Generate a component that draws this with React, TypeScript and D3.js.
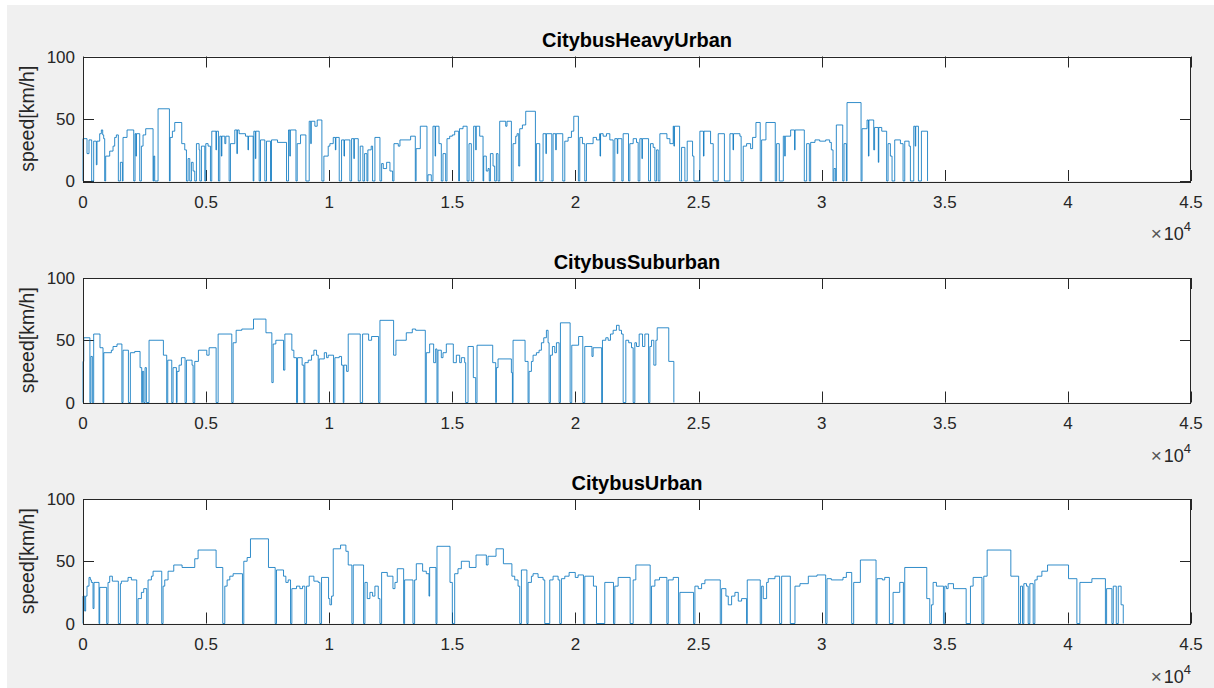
import React, { useEffect, useRef } from "react";
import * as d3 from "d3";

type Pt = [number, number];

// distance [m] / speed [km/h] breakpoints, speed holds until next breakpoint
const heavyUrbanProfile: Pt[] = [
  [0, 0], [0, 34], [163, 22], [244, 33], [352, 0], [434, 32], [542, 13], [569, 32], [678, 38], [745, 41], [800, 37], [840, 34], [881, 0],
  [921, 20], [1084, 24], [1220, 28], [1287, 35], [1355, 37], [1436, 0], [1518, 15], [1599, 0], [1626, 35], [1789, 41], [2060, 0],
  [2114, 38], [2150, 20], [2170, 38], [2304, 0], [2371, 28], [2439, 37], [2547, 42], [2846, 0], [2873, 20], [2913, 0], [3049, 58],
  [3510, 0], [3540, 35], [3631, 40], [3726, 47], [4010, 30], [4133, 25], [4201, 0], [4268, 18], [4336, 0], [4404, 15], [4472, 8],
  [4539, 0], [4607, 30], [4715, 25], [4743, 0], [4810, 28], [4946, 0], [4987, 30], [5081, 28], [5176, 0], [5230, 40], [5400, 25],
  [5420, 40], [5501, 0], [5556, 36], [5620, 20], [5640, 36], [5759, 30], [5800, 36], [5935, 0], [5989, 30], [6165, 41], [6250, 22],
  [6270, 41], [6342, 38], [6599, 36], [6700, 25], [6720, 36], [6911, 0], [6938, 40], [7000, 18], [7020, 40], [7155, 0], [7209, 33],
  [7385, 0], [7453, 32], [7615, 0], [7656, 33], [7900, 31], [8266, 0], [8348, 41], [8400, 20], [8420, 41], [8650, 0], [8700, 30],
  [8835, 37], [9052, 0], [9187, 48], [9250, 30], [9270, 48], [9417, 44], [9512, 49], [9702, 0], [9783, 20], [9959, 28], [10027, 30],
  [10163, 35], [10250, 25], [10270, 35], [10406, 0], [10501, 33], [10600, 20], [10620, 33], [10840, 0], [10908, 34], [11000, 18],
  [11020, 34], [11179, 0], [11260, 28], [11368, 0], [11436, 22], [11531, 0], [11570, 25], [11706, 28], [11761, 0], [11856, 35],
  [12060, 0], [12128, 14], [12195, 10], [12331, 15], [12466, 8], [12574, 0], [12629, 30], [12805, 28], [12873, 33], [13306, 36],
  [13496, 0], [13530, 26], [13699, 44], [13970, 0], [14011, 5], [14146, 0], [14214, 44], [14300, 20], [14320, 44], [14458, 30],
  [14553, 0], [14621, 22], [14729, 0], [14783, 34], [14892, 36], [15000, 37], [15095, 40], [15257, 0], [15290, 42], [15434, 44],
  [15600, 0], [15677, 30], [15772, 0], [15867, 44], [15950, 25], [15970, 44], [16111, 36], [16247, 0], [16274, 20], [16380, 8],
  [16450, 10], [16500, 0], [16545, 22], [16653, 12], [16720, 0], [16789, 22], [16856, 0], [16924, 48], [17168, 44], [17220, 48],
  [17398, 0], [17466, 30], [17574, 36], [17629, 38], [17696, 12], [17737, 42], [17846, 45], [17981, 56], [18374, 0], [18415, 30],
  [18550, 0], [18686, 38], [18800, 22], [18820, 38], [19040, 0], [19092, 38], [19200, 25], [19220, 38], [19485, 0], [19567, 32],
  [19702, 35], [19837, 40], [19932, 52], [20120, 0], [20176, 35], [20285, 30], [20379, 0], [20447, 30], [20718, 35], [20854, 33],
  [20989, 38], [21000, 20], [21020, 38], [21125, 36], [21260, 38], [21396, 33], [21532, 0], [21599, 34], [21700, 22], [21720, 34],
  [21885, 0], [21938, 38], [22155, 0], [22209, 30], [22345, 34], [22480, 31], [22548, 0], [22616, 34], [22700, 18], [22720, 34],
  [22970, 0], [23049, 30], [23158, 27], [23226, 0], [23294, 25], [23362, 0], [23429, 38], [23715, 34], [23836, 30], [23971, 44],
  [24000, 28], [24020, 44], [24230, 0], [24310, 27], [24444, 0], [24539, 32], [24756, 20], [24810, 0], [25054, 40], [25200, 20],
  [25220, 40], [25488, 30], [25596, 0], [25799, 38], [26050, 0], [26274, 38], [26400, 25], [26420, 38], [26680, 36], [26730, 0],
  [26816, 28], [26951, 30], [27114, 26], [27195, 35], [27330, 47], [27505, 0], [27561, 33], [27737, 47], [28115, 0], [28171, 30],
  [28279, 0], [28442, 36], [28500, 20], [28520, 36], [28740, 41], [28900, 25], [28920, 41], [29295, 0], [29390, 30], [29499, 0],
  [29553, 31], [29729, 33], [29919, 32], [30163, 33], [30325, 31], [30393, 25], [30461, 0], [30501, 10], [30569, 0], [30596, 45],
  [30855, 0], [30908, 30], [31003, 0], [31030, 63], [31600, 0], [31640, 42], [31843, 49], [31900, 20], [31920, 49], [32114, 25],
  [32150, 43], [32300, 15], [32320, 43], [32440, 40], [32640, 0], [32696, 30], [32791, 20], [32859, 0], [32967, 33], [33198, 30],
  [33306, 0], [33374, 32], [33550, 28], [33604, 0], [33740, 44], [33800, 28], [33820, 44], [33930, 0], [34051, 40], [34300, 0],
];

const suburbanProfile: Pt[] = [
  [0, 0], [0, 33], [30, 52], [280, 0], [320, 37], [380, 0], [434, 55], [690, 44], [813, 0], [845, 40], [1152, 42], [1220, 45],
  [1382, 47], [1580, 0], [1626, 42], [1845, 0], [1924, 40], [2101, 41], [2318, 28], [2385, 0], [2412, 25], [2466, 0], [2520, 28],
  [2575, 0], [2683, 50], [3265, 38], [3400, 0], [3442, 34], [3605, 0], [3659, 28], [3794, 0], [3821, 25], [3902, 30], [3997, 36],
  [4146, 0], [4201, 34], [4430, 30], [4472, 0], [4539, 33], [4688, 42], [5027, 38], [5122, 44], [5407, 0], [5488, 55], [6043, 0],
  [6098, 48], [6220, 58], [6450, 59], [6925, 67], [7430, 56], [7670, 16], [7724, 47], [7832, 50], [8144, 26], [8198, 55],
  [8482, 42], [8564, 36], [8673, 0], [8713, 36], [8900, 30], [8971, 0], [9011, 32], [9147, 34], [9282, 38], [9377, 42], [9485, 38],
  [9553, 0], [9594, 35], [9800, 40], [9892, 36], [9959, 38], [10176, 0], [10230, 36], [10406, 37], [10501, 30], [10569, 0],
  [10596, 30], [10705, 25], [10772, 55], [11260, 0], [11355, 55], [11600, 50], [11721, 53], [12005, 0], [12060, 66], [12615, 38],
  [12710, 50], [13130, 56], [13374, 59], [13510, 58], [13902, 0], [13943, 40], [14079, 47], [14241, 32], [14323, 43], [14377, 0],
  [14417, 42], [14553, 36], [14621, 40], [14756, 47], [15040, 32], [15163, 38], [15298, 32], [15366, 36], [15501, 32], [15542, 0],
  [15637, 45], [15853, 20], [15949, 0], [16003, 46], [16640, 32], [16762, 0], [16789, 28], [16856, 35], [17398, 24], [17440, 0],
  [17466, 50], [17954, 33], [18076, 0], [18117, 25], [18212, 33], [18279, 38], [18415, 40], [18523, 42], [18618, 48], [18713, 52],
  [18821, 58], [18889, 48], [18930, 0], [18984, 38], [19065, 45], [19160, 40], [19228, 48], [19336, 0], [19390, 64], [19784, 0],
  [19851, 46], [20128, 53], [20298, 0], [20379, 45], [20670, 37], [20718, 44], [21064, 0], [21097, 50], [21233, 52], [21328, 50],
  [21423, 55], [21531, 58], [21667, 62], [21775, 58], [21870, 55], [21938, 0], [22046, 50], [22162, 48], [22277, 44], [22344, 0],
  [22412, 48], [22480, 45], [22588, 55], [22724, 45], [22819, 55], [22970, 0], [23022, 45], [23090, 50], [23184, 30], [23266, 50],
  [23320, 60], [23790, 33], [23997, 0],
];

const urbanProfile: Pt[] = [
  [0, 0], [0, 22], [68, 10], [108, 22], [163, 30], [244, 37], [298, 35], [339, 33], [407, 12], [447, 33], [650, 0], [678, 29],
  [962, 0], [1016, 33], [1084, 38], [1192, 34], [1436, 0], [1518, 32], [1558, 34], [1829, 37], [1965, 35], [2182, 0], [2236, 20],
  [2371, 25], [2466, 28], [2588, 0], [2642, 35], [2778, 38], [2846, 42], [3198, 0], [3252, 30], [3320, 35], [3455, 42], [3686, 47],
  [4024, 45], [4539, 52], [4675, 59], [5406, 45], [5677, 0], [5759, 30], [5854, 35], [5962, 38], [6098, 40], [6476, 0], [6531, 50],
  [6667, 53], [6802, 68], [7533, 45], [7805, 0], [7859, 43], [8144, 38], [8239, 33], [8333, 35], [8428, 0], [8482, 28], [8672, 30],
  [8808, 28], [8916, 30], [9011, 0], [9079, 30], [9187, 38], [9377, 34], [9553, 33], [9621, 0], [9688, 37], [9973, 20], [10027, 15],
  [10095, 22], [10163, 60], [10461, 63], [10677, 58], [10772, 47], [10920, 0], [10976, 47], [11395, 0], [11450, 33], [11545, 20],
  [11653, 25], [11761, 22], [11856, 30], [11992, 20], [12060, 0], [12128, 41], [12358, 38], [12588, 28], [12670, 33], [12764, 44],
  [13022, 0], [13062, 35], [13401, 0], [13469, 35], [13537, 48], [13793, 42], [13943, 40], [14052, 22], [14079, 45], [14336, 0],
  [14377, 62], [14905, 33], [15000, 0], [15095, 40], [15230, 44], [15366, 50], [15691, 45], [15962, 55], [16382, 47], [16450, 54],
  [16775, 60], [17074, 48], [17419, 38], [17534, 35], [17669, 30], [17737, 0], [17805, 43], [18028, 0], [18076, 33], [18212, 38],
  [18279, 40], [18482, 37], [18686, 35], [18754, 0], [18957, 35], [19092, 38], [19296, 35], [19363, 0], [19431, 36], [19567, 38],
  [19743, 41], [19993, 37], [20108, 39], [20325, 0], [20380, 38], [20731, 30], [20854, 0], [21192, 33], [21545, 0], [21599, 30],
  [21734, 37], [22222, 0], [22344, 35], [22453, 47], [23035, 0], [23090, 30], [23226, 35], [23415, 37], [23713, 0], [23768, 35],
  [23971, 37], [24187, 0], [24242, 25], [24797, 0], [24852, 30], [24987, 28], [25123, 32], [25258, 35], [25882, 0], [25936, 28],
  [26112, 22], [26206, 15], [26342, 22], [26477, 25], [26613, 18], [26748, 20], [26951, 0], [26978, 35], [27506, 0], [27561, 30],
  [27628, 20], [27764, 33], [27832, 36], [28103, 38], [28292, 0], [28374, 38], [28726, 0], [28916, 30], [29119, 32], [29458, 38],
  [29810, 39], [30163, 0], [30217, 36], [30393, 35], [30867, 37], [31003, 41], [31220, 0], [31301, 33], [31572, 51], [32208, 0],
  [32249, 36], [32466, 35], [32561, 37], [32750, 0], [32900, 25], [33171, 33], [33320, 0], [33374, 45], [34268, 20], [34390, 0],
  [34458, 15], [34526, 33], [34661, 30], [34946, 0], [35000, 30], [35068, 28], [35136, 32], [35353, 28], [35868, 0], [36043, 30],
  [36152, 37], [36510, 0], [36585, 38], [36721, 59], [37683, 38], [38000, 0], [38076, 30], [38157, 0], [38211, 32], [38320, 30],
  [38387, 0], [38455, 32], [38591, 0], [38659, 35], [38753, 38], [38943, 42], [39174, 47], [40026, 36], [40365, 0], [40488, 33],
  [40975, 36], [41524, 0], [41572, 28], [41788, 0], [41843, 30], [41965, 0], [42046, 30], [42161, 15], [42249, 0],
];

const panelTitles = ["CitybusHeavyUrban", "CitybusSuburban", "CitybusUrban"];
const panelProfiles = [heavyUrbanProfile, suburbanProfile, urbanProfile];
const xTicks = [0, 5000, 10000, 15000, 20000, 25000, 30000, 35000, 40000, 45000];
const xTickLabels = ["0", "0.5", "1", "1.5", "2", "2.5", "3", "3.5", "4", "4.5"];
const yTicks = [0, 50, 100];
const yLabel = "speed[km/h]";

const FONT = "'Liberation Sans', Arial, Helvetica, sans-serif";

const App: React.FC = () => {
  const svgRef = useRef<SVGSVGElement | null>(null);

  useEffect(() => {
    if (!svgRef.current) return;
    const width = 1214;
    const height = 688;
    const left = 83;
    const plotW = 1108;
    const plotH = 124.5;
    const tops = [56.5, 278, 499];
    const tickLen = 11;
    const axisColor = "#262626";

    const svg = d3.select(svgRef.current);
    svg.selectAll("*").remove();

    svg.append("rect").attr("width", width).attr("height", height).attr("fill", "#ffffff");
    svg.append("rect").attr("x", 7).attr("y", 5).attr("width", width - 7).attr("height", height - 5).attr("fill", "#f0f0f0");

    const x = d3.scaleLinear().domain([0, 45000]).range([left, left + plotW]);

    panelProfiles.forEach((profile, i) => {
      const top = tops[i];
      const bottom = top + plotH;
      const y = d3.scaleLinear().domain([0, 100]).range([bottom, top]);
      const g = svg.append("g");

      g.append("rect")
        .attr("x", left).attr("y", top)
        .attr("width", plotW).attr("height", plotH)
        .attr("fill", "#ffffff");

      // ticks (inward, on all four sides like matlab box on)
      const ticks = g.append("g").attr("stroke", axisColor).attr("stroke-width", 1);
      xTicks.forEach((t) => {
        const px = Math.round(x(t)) + 0.5;
        ticks.append("line").attr("x1", px).attr("x2", px).attr("y1", bottom).attr("y2", bottom - tickLen);
        ticks.append("line").attr("x1", px).attr("x2", px).attr("y1", top).attr("y2", top + tickLen);
      });
      yTicks.forEach((t) => {
        const py = Math.round(y(t)) + 0.5;
        ticks.append("line").attr("x1", left).attr("x2", left + tickLen).attr("y1", py).attr("y2", py);
        ticks.append("line").attr("x1", left + plotW).attr("x2", left + plotW - tickLen).attr("y1", py).attr("y2", py);
      });

      const line = d3.line<Pt>()
        .x((d) => x(d[0]))
        .y((d) => y(d[1]))
        .curve(d3.curveStepAfter);

      g.append("path")
        .datum(profile)
        .attr("d", line)
        .attr("fill", "none")
        .attr("stroke", "#0072BD")
        .attr("stroke-width", 0.9)
        .attr("stroke-opacity", 0.9)
        .attr("stroke-linejoin", "round");

      // box
      g.append("rect")
        .attr("x", left + 0.5).attr("y", Math.round(top) + 0.5)
        .attr("width", plotW - 1).attr("height", Math.round(plotH))
        .attr("fill", "none")
        .attr("stroke", axisColor)
        .attr("stroke-width", 1);

      // tick labels
      xTicks.forEach((t, k) => {
        g.append("text")
          .attr("x", x(t)).attr("y", bottom + 26.5)
          .attr("text-anchor", "middle")
          .attr("font-family", FONT).attr("font-size", 17)
          .attr("fill", axisColor)
          .text(xTickLabels[k]);
      });
      yTicks.forEach((t) => {
        g.append("text")
          .attr("x", left - 8).attr("y", y(t)).attr("dy", "0.36em")
          .attr("text-anchor", "end")
          .attr("font-family", FONT).attr("font-size", 17)
          .attr("fill", axisColor)
          .text(String(t));
      });

      // exponent label
      const exp = g.append("text")
        .attr("x", left + plotW).attr("y", bottom + 59)
        .attr("text-anchor", "end")
        .attr("font-family", FONT).attr("font-size", 18)
        .attr("fill", axisColor);
      exp.append("tspan").attr("font-size", 19).attr("fill", "#555555").text("\u00d7");
      exp.append("tspan").attr("dx", 2).text("10");
      exp.append("tspan").attr("dy", -9).attr("font-size", 13).text("4");

      // y label
      g.append("text")
        .attr("transform", `translate(34,${(top + bottom) / 2}) rotate(-90)`)
        .attr("text-anchor", "middle")
        .attr("font-family", FONT).attr("font-size", 19.5)
        .attr("fill", axisColor)
        .text(yLabel);

      // title
      g.append("text")
        .attr("x", left + plotW / 2).attr("y", top - 9.5)
        .attr("text-anchor", "middle")
        .attr("font-family", FONT).attr("font-size", 20)
        .attr("font-weight", "bold")
        .attr("fill", "#000000")
        .text(panelTitles[i]);
    });
  }, []);

  return (
    <svg
      ref={svgRef}
      width={1214}
      height={688}
      style={{ position: "absolute", left: 0, top: 0, display: "block" }}
    />
  );
};

export default App;
